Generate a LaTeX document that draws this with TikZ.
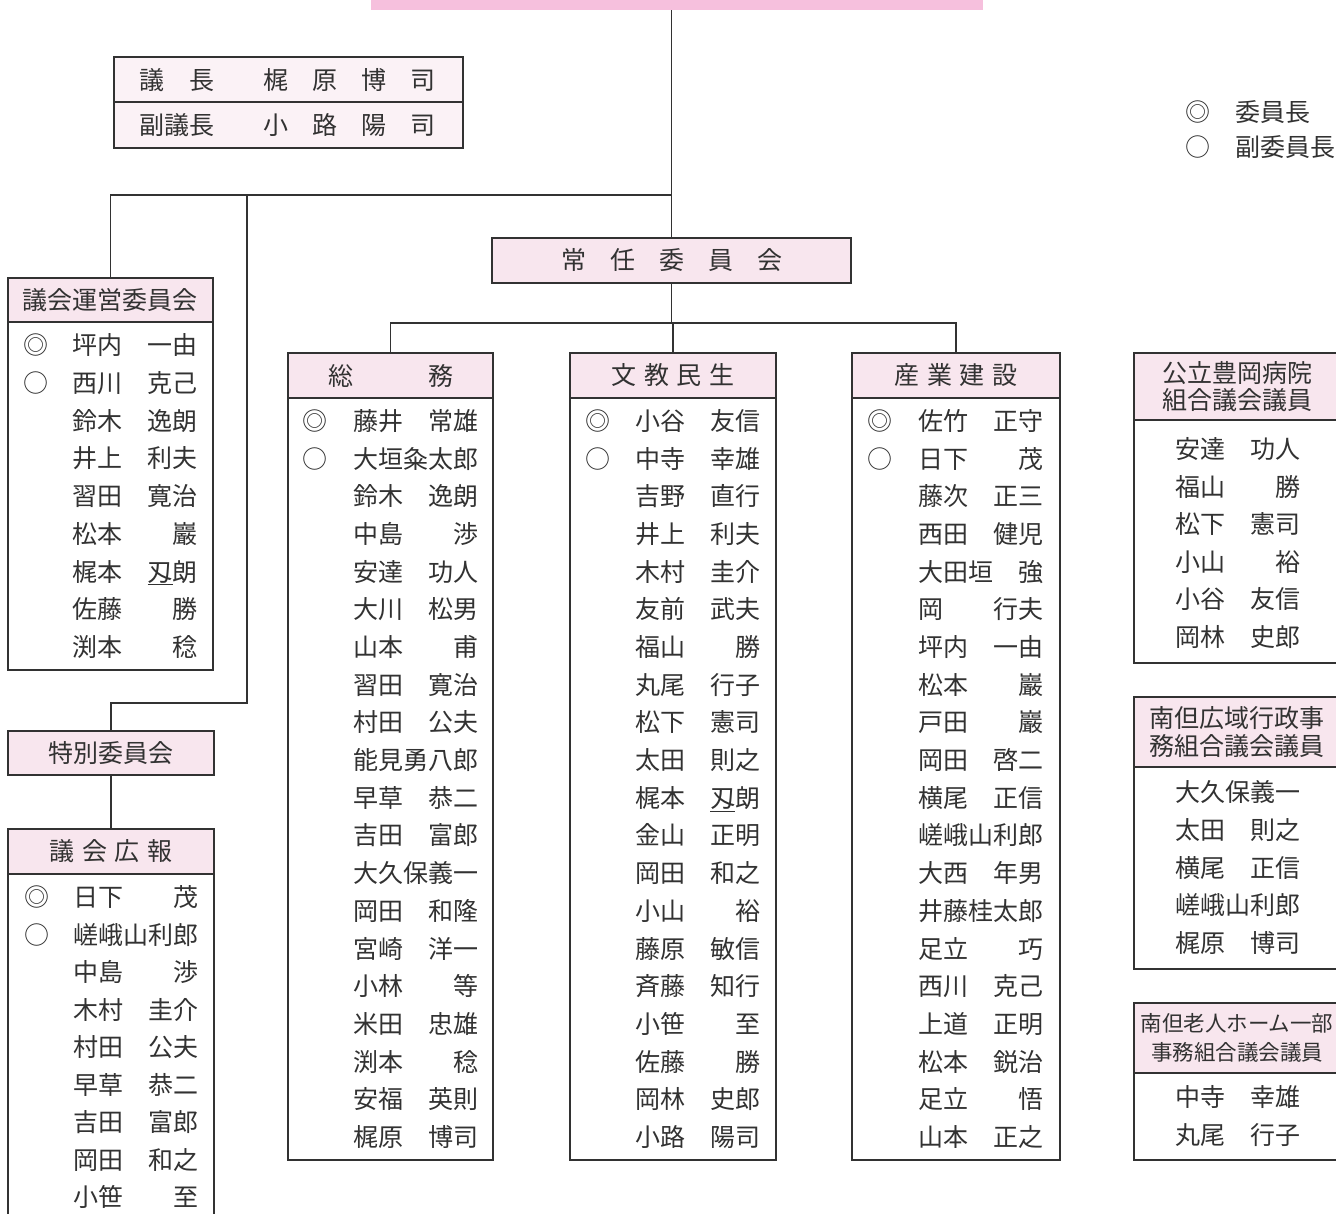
\documentclass[tikz,border=0pt]{standalone}
\usepackage{fontspec}
\setmainfont{Noto Sans CJK JP}
\definecolor{ink}{RGB}{50,50,50}
\definecolor{hdrpink}{RGB}{248,230,238}
\definecolor{lightpink}{RGB}{251,242,246}
\definecolor{bandpink}{RGB}{246,192,221}
\newcommand{\nm}[2]{\hbox to 5em{#1\hfill#2}}
\newcommand{\mkbox}[7]{\node[#6,minimum width={#4-#2},minimum height={#5-#3}] (#1) at ({(#2+#4)/2},{(#3+#5)/2}) {#7};}
\newcommand{\members}[5]{\foreach \a/\b [count=\i from 0] in {#5}{\node[nametxt] (#1-\i) at ({#2},{#3+#4*\i}) {\nm{\a}{\b}};}}
\begin{document}
\begin{tikzpicture}[x=1pt,y=-1pt,
  frame/.style={draw=ink,line width=1.3pt,rectangle,inner sep=0pt,outer sep=0pt,text=ink,
    font=\fontsize{25}{28}\selectfont},
  hdr/.style={frame,fill=hdrpink},
  body/.style={frame,fill=white},
  nametxt/.style={inner sep=0pt,text=ink,font=\fontsize{25}{28}\selectfont,text height=22pt,text depth=3pt},
  marktxt/.style={nametxt},
  conn/.style={draw=ink,line width=1.3pt}]
\useasboundingbox (0,0) rectangle (1336,1214);
\clip (0,0) rectangle (1336,1214);
% top band
\mkbox{band}{371}{-10}{983}{10}{rectangle,fill=bandpink,inner sep=0pt}{}
% chair box
\mkbox{gichoA}{114}{57}{463}{102}{frame,fill=lightpink}{}
\mkbox{gichoB}{114}{102}{463}{148}{frame,fill=lightpink}{}
\node[nametxt] (gc1) at (177,80) {議\hspace{1em}長};
\node[nametxt] (gc2) at (349,80) {梶\hspace{0.96em}原\hspace{0.96em}博\hspace{0.96em}司};
\node[nametxt] (gc3) at (177,125) {副議長};
\node[nametxt] (gc4) at (349,125) {小\hspace{0.96em}路\hspace{0.96em}陽\hspace{0.96em}司};
% legend
\node[marktxt] (lg1) at (1198,112) {◎};
\node[nametxt,anchor=west] (lg2) at (1235,112) {委員長};
\node[marktxt] (lg3) at (1198,147) {○};
\node[nametxt,anchor=west] (lg4) at (1235,147) {副委員長};
% standing committee
\mkbox{jonin}{492}{238}{851}{283}{hdr}{常\hspace{0.96em}任\hspace{0.96em}委\hspace{0.96em}員\hspace{0.96em}会}
% left boxes
\mkbox{giunH}{8}{278}{213}{322}{hdr}{議会運営委員会}
\mkbox{giunB}{8}{322}{213}{670}{body}{}
\mkbox{tokuH}{8}{731}{214}{775}{hdr}{特別委員会}
\mkbox{kohoH}{8}{829}{214}{874}{hdr}{議\hspace{0.3em}会\hspace{0.3em}広\hspace{0.3em}報}
\mkbox{kohoB}{8}{874}{214}{1230}{body}{}
% committees
\mkbox{soumuH}{288}{353}{493}{398}{hdr}{総\hspace{3em}務}
\mkbox{soumuB}{288}{398}{493}{1160}{body}{}
\mkbox{bunkyoH}{570}{353}{776}{398}{hdr}{文\hspace{0.3em}教\hspace{0.3em}民\hspace{0.3em}生}
\mkbox{bunkyoB}{570}{398}{776}{1160}{body}{}
\mkbox{sangyoH}{852}{353}{1060}{398}{hdr}{産\hspace{0.3em}業\hspace{0.3em}建\hspace{0.3em}設}
\mkbox{sangyoB}{852}{398}{1060}{1160}{body}{}
% right boxes
\mkbox{byoinH}{1134}{353}{1340}{420}{hdr,align=center,font=\fontsize{25}{27}\selectfont}{公立豊岡病院\\組合議会議員}
\mkbox{byoinB}{1134}{420}{1340}{663}{body}{}
\mkbox{koikiH}{1134}{697}{1340}{767}{hdr,align=center,font=\fontsize{25}{28}\selectfont}{南但広域行政事\\務組合議会議員}
\mkbox{koikiB}{1134}{767}{1340}{969}{body}{}
\mkbox{rojinH}{1134}{1003}{1340}{1073}{hdr,align=center,font=\fontsize{21.5}{29}\selectfont}{南但老人ホーム一部\\事務組合議会議員}
\mkbox{rojinB}{1134}{1073}{1340}{1160}{body}{}
% connectors
\coordinate (j1) at (671.5,195);
\coordinate (k1) at (247,195);
\coordinate (k2) at (247,703);
\coordinate (bar) at (671.5,323);
\draw[conn] (band.south -| jonin.north) -- (jonin.north);
\draw[conn] (j1) -| (giunH.north);
\draw[conn] (k1) -- (k2) -| (tokuH.north);
\draw[conn] (tokuH.south) -- (kohoH.north);
\draw[conn] (jonin.south) -- (bar);
\draw[conn] (soumuH.north) |- (bar) -| (sangyoH.north);
\draw[conn] (bunkyoH.north) -- (bunkyoH.north |- bar);
% marks
\node[marktxt] (giun-m1) at (36,345) {◎};
\node[marktxt] (giun-m2) at (36,383) {○};
\node[marktxt] (koho-m1) at (37,897) {◎};
\node[marktxt] (koho-m2) at (37,935) {○};
\node[marktxt] (soumu-m1) at (315,421) {◎};
\node[marktxt] (soumu-m2) at (315,459) {○};
\node[marktxt] (bunkyo-m1) at (598,421) {◎};
\node[marktxt] (bunkyo-m2) at (598,459) {○};
\node[marktxt] (sangyo-m1) at (880,421) {◎};
\node[marktxt] (sangyo-m2) at (880,459) {○};
% members
\members{giun}{135}{345}{37.75}{坪内/一由,西川/克己,鈴木/逸朗,井上/利夫,習田/寛治,松本/巖,梶本/{\underline{刄}朗},佐藤/勝,渕本/稔}
\members{koho}{136}{897}{37.5}{日下/茂,嵯峨山利郎/{},中島/渉,木村/圭介,村田/公夫,早草/恭二,吉田/富郎,岡田/和之,小笹/至}
\members{soumu}{415.5}{421}{37.68}{藤井/常雄,大垣粂太郎/{},鈴木/逸朗,中島/渉,安達/功人,大川/松男,山本/甫,習田/寛治,村田/公夫,能見勇八郎/{},早草/恭二,吉田/富郎,大久保義一/{},岡田/和隆,宮崎/洋一,小林/等,米田/忠雄,渕本/稔,安福/英則,梶原/博司}
\members{bunkyo}{697.5}{421}{37.68}{小谷/友信,中寺/幸雄,吉野/直行,井上/利夫,木村/圭介,友前/武夫,福山/勝,丸尾/行子,松下/憲司,太田/則之,梶本/{\underline{刄}朗},金山/正明,岡田/和之,小山/裕,藤原/敏信,斉藤/知行,小笹/至,佐藤/勝,岡林/史郎,小路/陽司}
\members{sangyo}{981}{421}{37.68}{佐竹/正守,日下/茂,藤次/正三,西田/健児,大田垣/強,岡/行夫,坪内/一由,松本/巖,戸田/巖,岡田/啓二,横尾/正信,嵯峨山利郎/{},大西/年男,井藤桂太郎/{},足立/巧,西川/克己,上道/正明,松本/鋭治,足立/悟,山本/正之}
\members{byoin}{1237.5}{449}{37.6}{安達/功人,福山/勝,松下/憲司,小山/裕,小谷/友信,岡林/史郎}
\members{koiki}{1237.5}{792}{37.8}{大久保義一/{},太田/則之,横尾/正信,嵯峨山利郎/{},梶原/博司}
\members{rojin}{1237.5}{1097}{38}{中寺/幸雄,丸尾/行子}
\end{tikzpicture}
\end{document}
